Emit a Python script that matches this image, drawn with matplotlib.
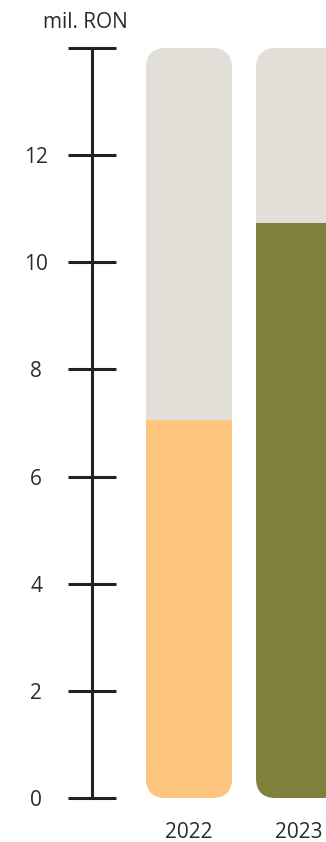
import matplotlib.pyplot as plt
from matplotlib.patches import FancyBboxPatch

# values in mil. RON
years = ['2022', '2023']
values = [7.05, 10.73]
bar_colors = ['#FEC57F', '#7F803B']
max_val = 14
yticks = [0, 2, 4, 6, 8, 10, 12, 14]
ytick_labels = ['0', '2', '4', '6', '8', '10', '12', '']

plt.rcParams['font.family'] = ['Open Sans', 'DejaVu Sans']
text_col = '#2b2b2b'
fs = 15

fig = plt.figure(figsize=(3.26, 8.42), dpi=100)
ax = fig.add_axes([0, 44/842, 1, 750/842])
ax.set_xlim(-189/110, 137/110)
ax.set_ylim(0, max_val)

width = 86/110
rx = 20/110
ry = 20/(750/14)
for i, (v, c) in enumerate(zip(values, bar_colors)):
    bg = FancyBboxPatch((i - width/2, 0), width, max_val,
                        boxstyle=f"round,pad=0,rounding_size={rx}",
                        mutation_aspect=ry/rx, fc='#E1DFD8', ec='none', zorder=1)
    ax.add_patch(bg)
    b = ax.bar(i, v, width=width, color=c, zorder=2)[0]
    b.set_clip_path(bg)

# axis
for s in ['top', 'right', 'bottom']:
    ax.spines[s].set_visible(False)
ax.spines['left'].set_position(('data', -97/110))
ax.spines['left'].set_color('#222222')
ax.spines['left'].set_linewidth(2.2)
ax.set_yticks(yticks)
ax.set_yticklabels(ytick_labels)
ax.tick_params(axis='y', direction='inout', length=34.5, width=2.2, color='#222222',
               labelsize=fs, labelcolor=text_col, pad=23)
for t in ax.get_yticklabels():
    t.set_horizontalalignment('center')
ax.set_xticks([0, 1])
ax.set_xticklabels(years)
ax.tick_params(axis='x', length=0, labelsize=fs, labelcolor=text_col, pad=17)
ax.patch.set_visible(False)

fig.text(85/326, 1 - 22/842, 'mil. RON', ha='center', va='center', fontsize=fs, color=text_col)

plt.savefig('out.png', dpi=100)
